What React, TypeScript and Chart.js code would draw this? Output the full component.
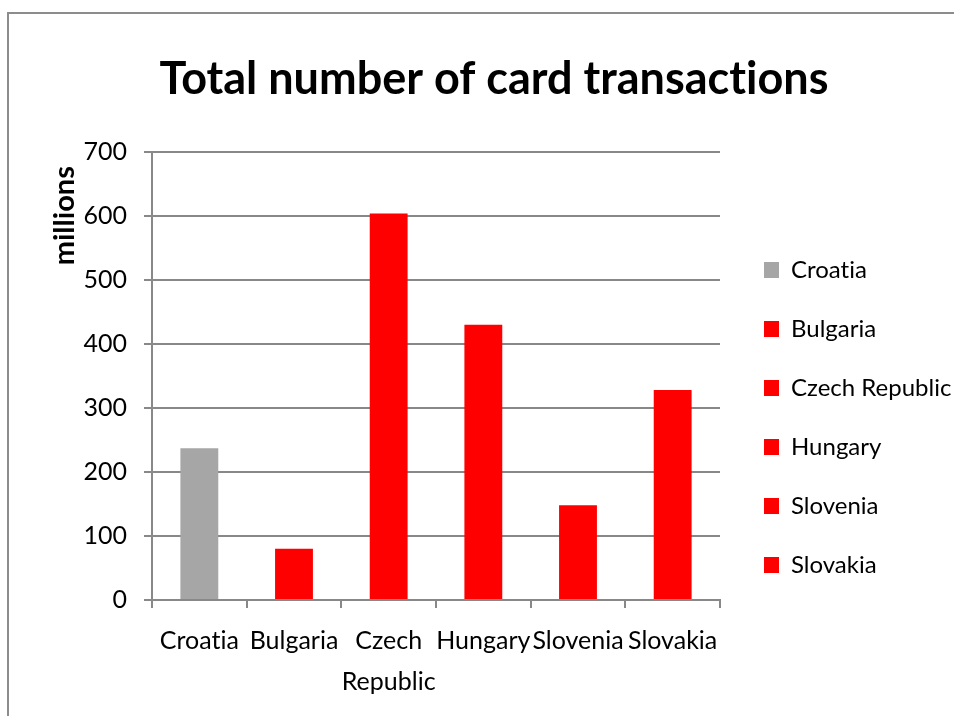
import React, { useEffect, useRef } from "react";
import { Chart, registerables } from "chart.js";

Chart.register(...registerables);

const titleText = "Total number of card transactions";
const yAxisTitle = "millions";
const countries = ["Croatia", "Bulgaria", "Czech Republic", "Hungary", "Slovenia", "Slovakia"];
const axisLabels: (string | string[])[] = ["Croatia", "Bulgaria", ["Czech", "Republic"], "Hungary", "Slovenia", "Slovakia"];
const transactions = [237, 80, 604, 430, 148, 328];
const barColors = ["#a6a6a6", "#ff0000", "#ff0000", "#ff0000", "#ff0000", "#ff0000"];
const yMin = 0;
const yMax = 700;
const yStep = 100;

const FONT = "Lato, 'Liberation Sans', sans-serif";
const GRID = "#888888";

const noLigatures = {
  id: "noLigatures",
  beforeDraw(chart: any) {
    try {
      (chart.ctx as any).textRendering = "optimizeSpeed";
    } catch (e) {
      /* ignore */
    }
  },
};

export default function App() {
  const ref = useRef<HTMLCanvasElement | null>(null);

  useEffect(() => {
    if (!ref.current) return;
    const chart = new Chart(ref.current, {
      type: "bar",
      data: {
        labels: axisLabels as any,
        datasets: [
          {
            label: titleText,
            data: transactions,
            backgroundColor: barColors,
            borderWidth: 0,
            categoryPercentage: 1,
            barPercentage: 0.4,
          },
        ],
      },
      plugins: [noLigatures],
      options: {
        responsive: false,
        animation: false,
        devicePixelRatio: 1,
        layout: { padding: { left: 34, right: 0, top: 0, bottom: 13 } },
        plugins: {
          tooltip: { enabled: false },
          title: {
            display: true,
            text: titleText,
            color: "#000",
            font: { family: FONT, size: 45, weight: "bold", lineHeight: 1.2 },
            padding: { top: 52, bottom: 46 },
          },
          legend: {
            display: true,
            position: "right",
            align: "start",
            maxWidth: 225,
            title: { display: true, text: " ", font: { size: 10 }, padding: { top: 211, bottom: 0 } },
            labels: {
              boxWidth: 15,
              boxHeight: 16,
              padding: 35,
              color: "#000",
              font: { family: FONT, size: 24 },
              generateLabels: () =>
                countries.map((c, i) => ({
                  text: c,
                  fillStyle: barColors[i],
                  strokeStyle: barColors[i],
                  fontColor: "#000",
                  lineWidth: 0,
                  hidden: false,
                  index: i,
                  datasetIndex: 0,
                })),
            },
            onClick: () => {},
          },
        },
        scales: {
          x: {
            type: "category",
            offset: true,
            grid: {
              display: true,
              drawOnChartArea: false,
              drawTicks: true,
              tickLength: 8,
              color: GRID,
              lineWidth: 2,
              offset: true,
            },
            border: { display: true, color: GRID, width: 2 },
            ticks: {
              color: "#000",
              padding: 12,
              maxRotation: 0,
              autoSkip: false,
              font: { family: FONT, size: 25, lineHeight: 1.64 },
            },
            afterFit: (s: any) => {
              s.height = 103;
            },
          },
          y: {
            type: "linear",
            position: "left",
            min: yMin,
            max: yMax,
            ticks: {
              stepSize: yStep,
              color: "#000",
              padding: 17,
              font: { family: FONT, size: 25 },
            },
            grid: { color: GRID, lineWidth: 2, tickLength: 8, drawTicks: true },
            border: { display: true, color: GRID, width: 2 },
            title: {
              display: true,
              text: yAxisTitle + "  ",
              align: "end",
              color: "#000",
              font: { family: FONT, size: 29, weight: "bold", lineHeight: 1.2 },
              padding: { top: 13, bottom: 0 },
            },
            afterFit: (s: any) => {
              s.width = 118;
            },
          },
          y2: {
            type: "linear",
            position: "right",
            display: true,
            grid: { display: false, drawTicks: false },
            ticks: { display: false },
            border: { display: false },
            afterFit: (s: any) => {
              s.width = 9;
            },
          },
        },
      },
    } as any);
    return () => chart.destroy();
  }, []);

  return (
    <div
      style={{
        position: "fixed",
        left: 0,
        top: 0,
        width: 954,
        height: 716,
        overflow: "hidden",
        background: "#fff",
      }}
    >
      <div
        style={{
          position: "absolute",
          left: 7,
          top: 12,
          width: 960,
          height: 720,
          borderLeft: "2px solid #8c8c8c",
          borderTop: "2px solid #8c8c8c",
        }}
      />
      <canvas ref={ref} width={954} height={716} style={{ position: "absolute", left: 0, top: 0, display: "block" }} />
    </div>
  );
}
